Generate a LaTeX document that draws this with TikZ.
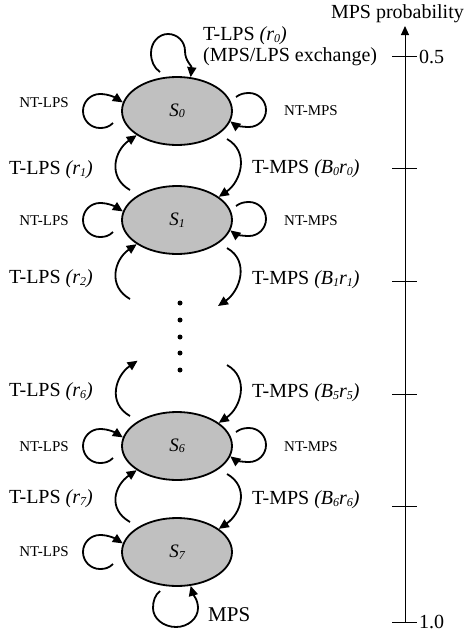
\documentclass[tikz,border=0pt]{standalone}
\usepackage{fontspec}
\setmainfont{Liberation Serif}
\usetikzlibrary{shapes.geometric,arrows.meta,calc}
\definecolor{stategray}{RGB}{192,192,192}
\newcommand\subd[1]{\raisebox{-1.5pt}{\fontsize{12}{12}\selectfont #1}}
\newcommand\bigf{\fontsize{20}{22}\selectfont}
\newcommand\smallf{\fontsize{15}{17}\selectfont}
\begin{document}
\begin{tikzpicture}[x=1pt,y=-1pt,
  state/.style={ellipse, draw, line width=1.8pt, fill=stategray, minimum width=110pt, minimum height=68pt, inner sep=0pt, font=\fontsize{19}{20}\selectfont\itshape},
  arr/.style={line width=1.8pt, -{Triangle[length=10pt,width=9pt]}},
  lab/.style={font=\bigf, inner sep=0pt},
  slab/.style={font=\smallf, inner sep=0pt},
  dotn/.style={circle, fill, inner sep=0pt, minimum size=5pt},
  axis/.style={line width=1pt},
]
\useasboundingbox (0,0) rectangle (465,632);
% states
\node[state] (s0) at (177,111) {S\subd{0}};
\node[state] (s1) at (177,220) {S\subd{1}};
\node[state] (s6) at (177,446) {S\subd{6}};
\node[state] (s7) at (177,552) {S\subd{7}};
\foreach \i/\y in {1/303,2/320,3/337,4/353,5/370} \node[dotn] (d\i) at (180,\y) {};
\coordinate (v1) at (177,329);
\coordinate (v6) at (177,337);
% NT-LPS loops (left)
\foreach \s in {s0,s1,s6,s7} {
  \begin{scope}[shift={(\s.center)}]
    \draw[arr] (-64,12) .. controls (-68,16) and (-72,17) .. (-77,17)
      .. controls (-86.4,17) and (-94,9.4) .. (-94,0)
      .. controls (-94,-9.4) and (-86.4,-17) .. (-77,-17)
      .. controls (-68,-17) and (-61,-13) .. (\s.171);
  \end{scope}
}
% NT-MPS loops (right)
\foreach \s in {s0,s1,s6} {
  \begin{scope}[shift={(\s.center)}]
    \draw[arr] (59,-14) .. controls (63,-17) and (67,-18) .. (72,-18)
      .. controls (81.4,-18) and (89,-10.4) .. (89,-1)
      .. controls (89,8.4) and (81.4,16) .. (72,16)
      .. controls (64,16) and (58,14) .. (\s.349);
  \end{scope}
}
% T-LPS (left, upward)
\draw[arr] ([shift={(-47,-30)}]s1.center) .. controls +(-23,-13) and +(-22,15) .. (s0.211);
\draw[arr] ([shift={(-47,-30)}]v1) .. controls +(-23,-13) and +(-22,15) .. (s1.211);
\draw[arr] ([shift={(-47,-30)}]s6.center) .. controls +(-23,-13) and +(-22,15) .. ([shift={(-39.4,23.7)}]v6);
\draw[arr] ([shift={(-47,-30)}]s7.center) .. controls +(-23,-13) and +(-22,15) .. (s6.211);
% T-MPS (right, downward)
\draw[arr] ([shift={(50,28)}]s0.center) .. controls +(23,13) and +(22,-15) .. (s1.29);
\draw[arr] ([shift={(50,28)}]s1.center) .. controls +(23,13) and +(22,-15) .. ([shift={(41,-23)}]v1);
\draw[arr] ([shift={(50,28)}]v6) .. controls +(23,13) and +(22,-15) .. (s6.29);
\draw[arr] ([shift={(50,28)}]s6.center) .. controls +(23,13) and +(22,-15) .. (s7.29);
% top loop of S0
\begin{scope}[shift={(s0.center)}]
  \draw[arr] (-17,-39) .. controls (-23,-43) and (-26,-50) .. (-26,-58)
    .. controls (-26,-68.5) and (-18.4,-77) .. (-9,-77)
    .. controls (0.4,-77) and (8,-69.5) .. (8,-60)
    .. controls (8,-50) and (15,-45) .. (s0.68);
\end{scope}
% bottom loop of S7
\begin{scope}[shift={(s7.center)}]
  \draw[arr] (-17,39) .. controls (-22,43) and (-24,49) .. (-24,56)
    .. controls (-24,66.5) and (-13.5,75) .. (-1,75)
    .. controls (11,75) and (21,66.5) .. (21,56)
    .. controls (21,48) and (16,42) .. (s7.292);
\end{scope}
% labels
\node[lab, anchor=east] (mpsprob) at (464,14) {MPS probability};
\node[lab, anchor=west] (tlps0) at (203,36) {T-LPS \textit{(r\subd{0})}};
\node[lab, anchor=west] (exch) at (203,57) {(MPS/LPS exchange)};
\node[lab, anchor=west] (tlps1) at (9,170) {T-LPS \textit{(r\subd{1})}};
\node[lab, anchor=west] (tlps2) at (9,279) {T-LPS \textit{(r\subd{2})}};
\node[lab, anchor=west] (tlps6) at (9,392) {T-LPS \textit{(r\subd{6})}};
\node[lab, anchor=west] (tlps7) at (9,499) {T-LPS \textit{(r\subd{7})}};
\node[lab, anchor=west] (tmps0) at (252,169) {T-MPS \textit{(B\subd{0}r\subd{0})}};
\node[lab, anchor=west] (tmps1) at (252,280) {T-MPS \textit{(B\subd{1}r\subd{1})}};
\node[lab, anchor=west] (tmps5) at (252,393) {T-MPS \textit{(B\subd{5}r\subd{5})}};
\node[lab, anchor=west] (tmps6) at (252,500) {T-MPS \textit{(B\subd{6}r\subd{6})}};
\node[slab] (ntl0) at (44,103) {NT-LPS};
\node[slab] (ntl1) at (44,221) {NT-LPS};
\node[slab] (ntl6) at (44,447) {NT-LPS};
\node[slab] (ntl7) at (44,552) {NT-LPS};
\node[slab] (ntm0) at (311,111) {NT-MPS};
\node[slab] (ntm1) at (311,221) {NT-MPS};
\node[slab] (ntm6) at (311,447) {NT-MPS};
\node[lab, anchor=west, font=\fontsize{21}{22}\selectfont] (mps) at (208,615) {MPS};
% axis
\draw[axis, -{Triangle[length=9pt,width=8pt]}] (405,622) -- (405,26);
\foreach \y in {56,168,281,394,506,622} \draw[axis] (392,\y) -- (417,\y);
\node[lab, anchor=west] (v05) at (419,57) {0.5};
\node[lab, anchor=west] (v10) at (419,622) {1.0};
\end{tikzpicture}
\end{document}
